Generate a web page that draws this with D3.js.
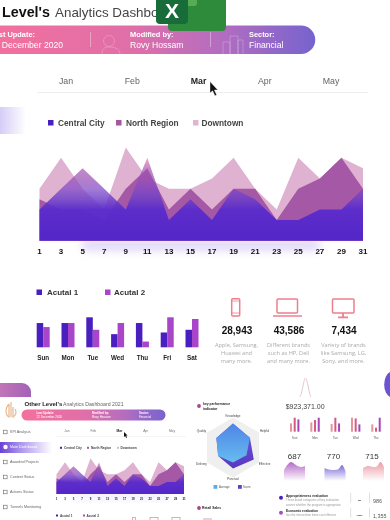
<!DOCTYPE html>
<html><head><meta charset="utf-8">
<script src="https://cdn.jsdelivr.net/npm/d3@7/dist/d3.min.js"></script>
<style>html,body{margin:0;padding:0;background:#fff;overflow:hidden}svg{display:block}text{font-family:"Liberation Sans",Arial,sans-serif}</style>
</head><body><svg id="c" width="390" height="520"></svg>
<script>
const days=[1,3,5,7,9,11,13,15,17,19,21,23,25,27,29,31];
const downtown=[5,8,5,3,9,6,5,5,6,8,5,3,8,6,8,7];
const northRegion=[4,3,3,2,5,7,3,5,3,5,5,2,5,6,8,5];
const centralCity=[3,5,7,5,3,8,2,4,2,5,4,2,2,3,3,5];
const months=["Jan","Feb","Mar","Apr","May"];
const weekDays=["Sun","Mon","Tue","Wed","Thu","Fri","Sat"];
const actual1=[72,72,89,39,72,44,52];
const actual2=[60,72,52,72,17,89,84];
const kpiValues=["28,943","43,586","7,434"];
const kpiText=[["Apple, Samsung,","Huawei and","many more."],["Different brands","such as HP, Dell","and many more."],["Variety of brands","like Samsung, LG,","Sony, and more."]];
const radarAxes=["Knowledge","Helpful","Effective","Punctual","Delivery","Quality"];
const radarAverage=[8,6.5,5.2,5,5.7,6.4];
const radarScore=[8,6.5,8,7,5.7,6.4];
const smallDays=["Sun","Mon","Tue","Wed","Thu"];
const smallA=[8.3,9.3,7.7,14,7.3];
const smallB=[14,11.7,14,13.3,4];
const smallC=[12.3,14,8.3,7.3,14];
const sparkNumbers=["687","770","715"];
const spark1=[2.6,6,7.7,6.5,5,4.5,5.1];
const spark2=[3.9,3,2.6,2.6,3.2,5.8,1.9];
const spark3=[3.9,5,5,4.5,5,7.7,4.5];
const bell=[0,2,6,10,12,10,6,2,0];
const sidebar=["KPI Analysis","Main Dashboard","Awarded Projects","Content Status","Actions Status","Tunnels Monitoring"];

const svg=d3.select("#c");
const defs=svg.append("defs");
function hgrad(id,stops){const g=defs.append("linearGradient").attr("id",id);
 stops.forEach(s=>g.append("stop").attr("offset",s[0]).attr("stop-color",s[1]).attr("stop-opacity",s[2]===undefined?1:s[2]));}
function vgrad(id,stops){const g=defs.append("linearGradient").attr("id",id).attr("x1",0).attr("x2",0).attr("y1",0).attr("y2",1);
 stops.forEach(s=>g.append("stop").attr("offset",s[0]).attr("stop-color",s[1]).attr("stop-opacity",s[2]===undefined?1:s[2]));}
hgrad("pill",[[0,"#f4709c"],[.45,"#e06fa8"],[.72,"#b36dc0"],[1,"#7763ce"]]);
hgrad("fade",[[0,"#d6cdf6"],[1,"#fff"]]);
hgrad("fade2",[[0,"#6a3fd8"],[.35,"#a58cec"],[1,"#fff"]]);
hgrad("frag",[[0,"#c877b8"],[1,"#a262b6"]]);
vgrad("sp1",[[0,"#a850c0",.85],[1,"#a850c0",0]]);
vgrad("sp2",[[0,"#6a52d0",.85],[1,"#6a52d0",0]]);
vgrad("sp3",[[0,"#e88a96",.85],[1,"#e88a96",0]]);
vgrad("rad1",[[0,"#4f84e6"],[1,"#66bdf0"]]);
vgrad("rad2",[[0,"#6a5ae0"],[1,"#5a38c0"]]);
defs.append("filter").attr("id","glow").attr("x","-20%").attr("y","-200%").attr("width","140%").attr("height","500%")
 .append("feGaussianBlur").attr("stdDeviation",5);

function txt(g,x,y,s,size,fill,opt={}){return g.append("text").attr("x",x).attr("y",y).attr("font-size",size).attr("fill",fill)
 .attr("font-weight",opt.w||"normal").attr("text-anchor",opt.a||"start").attr("dominant-baseline","central").style("font-family",opt.f||null).text(s);}

function areaChart(g,id,x0,x1,yB,yT,blur){
 const x=d3.scaleLinear().domain([1,31]).range([x0,x1]);
 const y=d3.scaleLinear().domain([0,9]).range([yB,yT]);
 const gr=defs.append("linearGradient").attr("id",id).attr("gradientUnits","userSpaceOnUse").attr("x1",0).attr("x2",0).attr("y1",y(8)).attr("y2",y(0));
 [[0,"#e8608f",.55],[.125,"#a858b0",.7],[.25,"#9a50b4",.72],[.375,"#8048c8",.72],[.5,"#6a3cc8",.82],[.625,"#5a2ccb",.97],[1,"#5526c8",1]].forEach(s=>gr.append("stop").attr("offset",s[0]).attr("stop-color",s[1]).attr("stop-opacity",s[2]));
 g.append("rect").attr("x",x(5)).attr("y",yB).attr("width",x(27)-x(5)).attr("height",blur).attr("fill","#b9a8f0").attr("opacity",.55).attr("filter","url(#glow)");
 const area=d3.area().x((d,i)=>x(days[i])).y0(yB).y1(d=>y(d));
 g.append("path").datum(downtown).attr("d",area).attr("fill","#dfb2d2");
 g.append("path").datum(northRegion).attr("d",area).attr("fill","#a558a6");
 g.append("path").datum(centralCity).attr("d",area).attr("fill",`url(#${id})`);
 return x;
}

/* ---------- upper part ---------- */
const up=svg.append("g").style("filter","blur(0.4px)");
txt(up,2,12,"Level's",14.3,"#111",{w:"bold"});
txt(up,55,12,"Analytics Dashboard 2021",13.4,"#444");
up.append("path").attr("d","M-20 25.5H301a14.2 14.2 0 0 1 0 28.5H-20Z").attr("fill","url(#pill)");
[[90],[210]].forEach(d=>up.append("rect").attr("x",d[0]).attr("y",32).attr("width",1).attr("height",15).attr("fill","#fff").attr("opacity",.35));
const faint=up.append("g").attr("fill","none").attr("stroke","#fff").attr("stroke-opacity",.22).attr("stroke-width",1);
faint.append("circle").attr("cx",109).attr("cy",41).attr("r",5.5);
faint.append("path").attr("d","M102 54c0-6 3-7 7-7s11 1 11 7");
faint.append("path").attr("d","M223 54V42h7v12M230 54V36h8v18M238 54V40h5v14");
txt(up,35,34.5,"Last Update:",7.4,"#fff",{w:"bold",a:"end"});
txt(up,63,45,"22 December 2020",8.6,"#fff",{a:"end"});
txt(up,130,34.5,"Modified by:",7.4,"#fff",{w:"bold"});
txt(up,130,45,"Rovy Hossam",8.6,"#fff");
txt(up,249,34.5,"Sector:",7.4,"#fff",{w:"bold"});
txt(up,249,45,"Financial",8.6,"#fff");
const monthX=d3.scalePoint().domain(months).range([66,331]);
months.forEach(m=>txt(up,monthX(m),81,m,8.8,m==="Mar"?"#222":"#666",{a:"middle",w:m==="Mar"?"bold":"normal"}));
up.append("rect").attr("x",37).attr("y",92).attr("width",331).attr("height",1).attr("fill","#eee");
up.append("rect").attr("x",0).attr("y",107).attr("width",26).attr("height",27).attr("fill","url(#fade)");
[["Central City",48,58,"#4a1fc0"],["North Region",116,126,"#a8559f"],["Downtown",193,201.5,"#e0b5d0"]].forEach(d=>{
 up.append("rect").attr("x",d[1]).attr("y",120).attr("width",5.5).attr("height",5.5).attr("fill",d[3]);
 txt(up,d[2],122.5,d[0],8.3,"#444",{w:"bold"});
});
const bx=areaChart(up,"ga",39.5,363,240.7,147.4,9);
days.forEach(d=>txt(up,bx(d),251.6,d,8,"#111",{w:"bold",a:"middle"}));

/* bars */
[["Acutal 1",36.5,47,"#4a1fc0"],["Acutal 2",105,114,"#a845c8"]].forEach(d=>{
 up.append("rect").attr("x",d[1]).attr("y",289.5).attr("width",5.5).attr("height",5.5).attr("fill",d[3]);
 txt(up,d[2],292,d[0],8,"#333",{w:"bold"});
});
const barX=d3.scaleBand().domain(weekDays).range([36.7,198.5]).paddingInner(.476).paddingOuter(0);
const barY=d3.scaleLinear().domain([0,100]).range([347.3,313.6]);
weekDays.forEach((w,i)=>{
 up.append("rect").attr("x",barX(w)).attr("y",barY(actual1[i])).attr("width",barX.bandwidth()/2).attr("height",barY(0)-barY(actual1[i])).attr("fill","#4a1fc0");
 up.append("rect").attr("x",barX(w)+barX.bandwidth()/2).attr("y",barY(actual2[i])).attr("width",barX.bandwidth()/2).attr("height",barY(0)-barY(actual2[i])).attr("fill","#a845c8");
 txt(up,barX(w)+barX.bandwidth()/2,357.5,w,6.3,"#222",{w:"bold",a:"middle"});
});

/* kpi icons */
const ic=up.append("g").attr("fill","none").attr("stroke","#ee7f8c").attr("stroke-width",1.5);
ic.append("rect").attr("x",231.7).attr("y",298.7).attr("width",8).attr("height",17.2).attr("rx",1);
ic.append("path").attr("d","M231.7 301h8M231.7 313h8").attr("stroke-width",.8);
ic.append("rect").attr("x",277).attr("y",299).attr("width",20.5).attr("height",14).attr("rx",1);
ic.append("path").attr("d","M273 316h29");
ic.append("rect").attr("x",332.5).attr("y",299).attr("width",21.5).attr("height",14).attr("rx",1);
ic.append("path").attr("d","M343 313v4M338 317.3h10").attr("stroke-width",1.8);
const kx=[237,289,344];
kpiValues.forEach((v,i)=>{
 txt(up,kx[i],330,v,10,"#111",{w:"bold",a:"middle"});
 kpiText[i].forEach((l,j)=>txt(up,kx[i]-.5,345+j*8,l,5.6,"#aaa",{a:"middle",f:"'Open Sans'"}));
});

/* ---------- embedded dashboard ---------- */
const low=svg.append("g").style("filter","blur(0.55px)");
low.append("path").attr("d","M-5 383H22a9 9 0 0 1 9 9v5H-5Z").attr("fill","url(#frag)");
low.append("path").attr("d","M390 372a8 13 0 0 0 0 25Z").attr("fill","#6a54d0");
low.append("g").attr("fill","none").attr("stroke","#e8b890").attr("stroke-width",1.2).call(g=>{
 g.append("path").attr("d","M9 404v13c-4-2-4-9 0-13M11 402v15M13 407v10c3-2 4-5 2-8");
});
txt(low,24.5,404,"Other Level's",6,"#222",{w:"bold"});
txt(low,63,404.3,"Analytics Dashboard 2021",5.2,"#666");
low.append("rect").attr("x",21.5).attr("y",409.5).attr("width",144).attr("height",11).attr("rx",5.5).attr("fill","url(#pill)");
[["Last Update:",36.5,"22 December 2020"],["Modified by:",92,"Rovy Hossam"],["Sector:",139,"Financial"]].forEach(d=>{
 txt(low,d[1],413,d[0],2.9,"#fff",{w:"bold"});
 txt(low,d[1],417.3,d[2],3,"#fff");
});
const mx=d3.scalePoint().domain(months).range([67,172]);
months.forEach(m=>txt(low,mx(m),431,m,3.3,m==="Mar"?"#222":"#777",{a:"middle",w:m==="Mar"?"bold":"normal"}));
low.append("rect").attr("x",56).attr("y",436).attr("width",130).attr("height",.6).attr("fill","#eee");
low.append("path").attr("d","M124 432l0 5 1.2-1 1 2 .8-.4-1-2h1.6Z").attr("fill","#111");
low.append("rect").attr("x",0).attr("y",442).attr("width",52).attr("height",11).attr("fill","url(#fade2)");
sidebar.forEach((s,i)=>{
 const yy=432+i*15;
 txt(low,10,yy,s,3.7,i===1?"#fff":"#666");
 if(i===1) low.append("circle").attr("cx",5.5).attr("cy",yy).attr("r",2.2).attr("fill","#fff");
 else low.append("rect").attr("x",3.5).attr("y",yy-1.8).attr("width",3.6).attr("height",3.6).attr("fill","none").attr("stroke","#666").attr("stroke-width",.6);
});
[["Central City",60,64,"#4a1fc0"],["North Region",87,91,"#a8559f"],["Downtown",117,120.5,"#e0b5d0"]].forEach(d=>{
 low.append("rect").attr("x",d[1]).attr("y",446.8).attr("width",2).attr("height",2).attr("fill",d[3]);
 txt(low,d[2],448,d[0],3.2,"#444",{w:"bold"});
});
const sx=areaChart(low,"gb",56.5,184,494,458.3,3);
days.forEach(d=>txt(low,sx(d),498.7,d,2.9,"#222",{w:"bold",a:"middle"}));
[["Acutal 1",56,60,"#4a1fc0"],["Acutal 2",83,86.5,"#a8559f"]].forEach(d=>{
 low.append("rect").attr("x",d[1]).attr("y",514.5).attr("width",2).attr("height",2).attr("fill",d[3]);
 txt(low,d[2],515.5,d[0],3.2,"#444",{w:"bold"});
});
low.append("g").attr("fill","none").attr("stroke","#ee8f9c").attr("stroke-width",.8).call(g=>{
 g.append("rect").attr("x",132.5).attr("y",517.5).attr("width",3).attr("height",8);
 g.append("rect").attr("x",150).attr("y",517.5).attr("width",8).attr("height",8);
 g.append("rect").attr("x",172).attr("y",517.5).attr("width",8).attr("height",8);
});

/* radar */
low.append("circle").attr("cx",199).attr("cy",406).attr("r",1.9).attr("fill","#a8458f");
txt(low,203,404,"key performance",3.4,"#222",{w:"bold"});
txt(low,203,408.7,"indicator",3.4,"#222",{w:"bold"});
const rc=[233,447.5], rr=d3.scaleLinear().domain([0,10]).range([0,30]);
const ang=d3.scalePoint().domain(radarAxes).range([0,Math.PI*5/3]);
const radial=d3.lineRadial().angle((d,i)=>ang(radarAxes[i])).radius(d=>rr(d)).curve(d3.curveLinearClosed);
const rg=low.append("g").attr("transform",`translate(${rc})`);
rg.append("path").attr("d",radial(radarAxes.map(()=>10))).attr("fill","#efefef");
rg.append("path").attr("d",radial(radarScore)).attr("fill","url(#rad2)");
rg.append("path").attr("d",radial(radarAverage)).attr("fill","url(#rad1)");
radarAxes.forEach((a,i)=>{
 const t=ang(a), r=rr(10)*(i%3===0?1.0:1.1)+ (i%3===0?1.6:0);
 const ex=i===0||i===3?0:(i<3?1:-1)*3;
 txt(low,rc[0]+Math.sin(t)*r+ex,rc[1]-Math.cos(t)*r,a,3,"#444",{a:"middle"});
});
[["Average",213.5,219,"#5caaea"],["Score",238,243,"#5a44c4"]].forEach(d=>{
 low.append("rect").attr("x",d[1]).attr("y",485).attr("width",3.8).attr("height",3.8).attr("fill",d[3]);
 txt(low,d[2],487,d[0],2.9,"#555");
});
low.append("circle").attr("cx",199).attr("cy",508).attr("r",1.9).attr("fill","#a8458f");
txt(low,202,508,"Retail Sales",3.4,"#222",{w:"bold"});
low.append("rect").attr("x",203).attr("y",518).attr("width",9).attr("height",4).attr("fill","#e8d0e8");

/* right column */
const bellX=d3.scaleLinear().domain([0,bell.length-1]).range([300,311]);
const bellY=d3.scaleLinear().domain([0,12]).range([397,377]);
low.append("path").attr("d",d3.line().x((d,i)=>bellX(i)).y(d=>bellY(d)).curve(d3.curveBasis)(bell)).attr("fill","none").attr("stroke","#e6c6d2").attr("stroke-width",1);
txt(low,285.7,406.5,"$923,371.00",7,"#444");
const gx=d3.scalePoint().domain(smallDays).range([294.7,376]);
const gy=d3.scaleLinear().domain([0,14]).range([431.7,417.7]);
smallDays.forEach((w,i)=>{
 [[smallA,"#e8929c",-3.7],[smallB,"#d45a80",0],[smallC,"#a845b8",3.7]].forEach(s=>{
  low.append("rect").attr("x",gx(w)+s[2]-1).attr("y",gy(s[0][i])).attr("width",2).attr("height",gy(0)-gy(s[0][i])).attr("fill",s[1]);
 });
 txt(low,gx(w),438.3,w,2.9,"#555",{a:"middle"});
});
const numX=[294.5,333.5,372];
[[spark1,"sp1",284,"#b068c8"],[spark2,"sp2",324.5,"#6a58d0"],[spark3,"sp3",363,"#e8929c"]].forEach((s,k)=>{
 txt(low,numX[k],456,sparkNumbers[k],8,"#333",{a:"middle"});
 const xx=d3.scaleLinear().domain([0,s[0].length-1]).range([s[2],s[2]+21]);
 const yy=d3.scaleLinear().domain([0,9]).range([474,460]);
 low.append("path").attr("d",d3.area().x((d,i)=>xx(i)).y0(481).y1(d=>yy(d)).curve(d3.curveCatmullRom)(s[0])).attr("fill",`url(#${s[1]})`);
});
[[281,497.7,"#4a1fc0","Appropriateness evaluation",["These broad categories of key evaluation","assess whether the program is appropriate"],"•••","986",496],
 [281,512.7,"#a050c0","Economic evaluation",["has the intervention been cost effective"],"•••••","1,355",511]].forEach(d=>{
 low.append("circle").attr("cx",d[0]).attr("cy",d[1]).attr("r",2).attr("fill",d[2]);
 txt(low,286,d[7],d[3],3.2,"#222",{w:"bold"});
 d[4].forEach((l,j)=>txt(low,286,d[7]+4.3+j*4.3,l,2.9,"#999"));
 low.append("rect").attr("x",350.5).attr("y",d[1]-5).attr("width",.6).attr("height",10).attr("fill","#ccc");
 low.append("rect").attr("x",369).attr("y",d[1]-5).attr("width",.6).attr("height",10).attr("fill","#ccc");
 txt(low,359.5,d[1]+3,d[5],3.4,"#555",{a:"middle"});
 txt(low,373,d[1]+3,d[6],5.4,"#555");
});

/* excel icon + cursor above the frame */
const xl=svg.append("g").style("filter","blur(0.3px)");
xl.append("path").attr("d","M168 -2H226V27a4 4 0 0 1-4 4H172a4 4 0 0 1-4-4Z").attr("fill","#2e8b3c");
xl.append("rect").attr("x",182).attr("y",-4).attr("width",15).attr("height",10).attr("rx",3).attr("fill","#55ae54");
xl.append("path").attr("d","M156 -2H188V20a4 4 0 0 1-4 4H160a4 4 0 0 1-4-4Z").attr("fill","#176c3a");
txt(xl,172,10,"X",21,"#fff",{w:"bold",a:"middle"});
svg.append("path").attr("d","M210 81.5V93l2.6-2.2 2.3 5 1.8-.8-2.3-5h3.4Z").attr("fill","#111").attr("stroke","#fff").attr("stroke-width",.4).style("filter","blur(0.3px)");
</script></body></html>
